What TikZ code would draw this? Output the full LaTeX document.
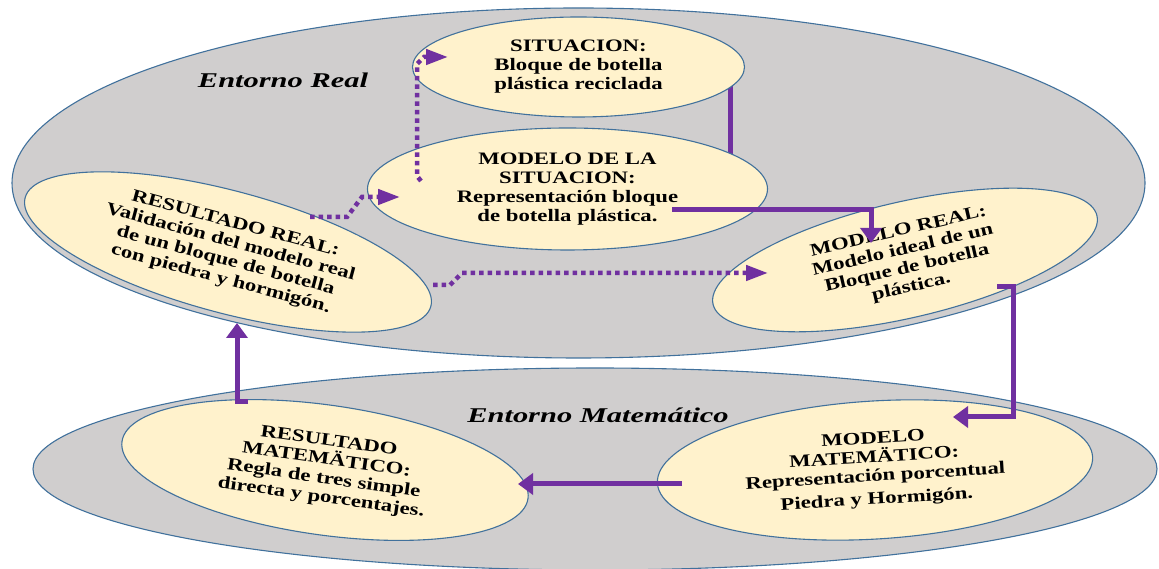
\documentclass[tikz,border=0pt]{standalone}
\usepackage{fontspec}
\setmainfont{Liberation Serif}
\newfontfamily\nodefont[FakeStretch=1.3]{Liberation Serif}
\newfontfamily\labfont[FakeStretch=1.45]{Liberation Serif}
\usetikzlibrary{shapes.geometric,arrows.meta,calc}
\pgfdeclarelayer{bglayer}
\pgfdeclarelayer{midlayer}
\pgfsetlayers{bglayer,midlayer,main}
\definecolor{envgray}{HTML}{D0CECE}
\definecolor{cream}{HTML}{FFF2CC}
\definecolor{edgeblue}{HTML}{41719C}
\definecolor{arrpurple}{HTML}{7030A0}
\tikzset{
  envbox/.style={ellipse, draw=edgeblue, line width=1.1pt, fill=envgray, inner sep=0pt},
  stagebox/.style={ellipse, draw=edgeblue, line width=1.1pt, fill=cream, inner sep=0pt, align=center,
    font=\nodefont\bfseries\fontsize{17.5}{19}\selectfont},
  solidconn/.style={draw=arrpurple, line width=5pt},
  solidarrow/.style={solidconn, -{Triangle[width=21pt,length=15pt]}},
  dotconn/.style={draw=arrpurple, line width=4.5pt, dash pattern=on 4.5pt off 4pt, -{Triangle[width=15pt,length=22pt]}},
  envlabel/.style={font=\labfont\bfseries\itshape\fontsize{21}{24}\selectfont, inner sep=0pt}
}
\begin{document}
\begin{tikzpicture}[x=1pt,y=1pt]
\useasboundingbox (0,0) rectangle (1159,569);
\begin{pgfonlayer}{bglayer}
  \node[envbox, minimum width=1133pt, minimum height=350pt] (real) at (578.5,386) {};
  \node[envbox, minimum width=1124pt, minimum height=202pt] (mate) at (595,100) {};
\end{pgfonlayer}
\node[envlabel] (lreal) at (283,489) {Entorno Real};
\node[envlabel] (lmat) at (598,154) {Entorno Matemático};

\node[stagebox, minimum width=332pt, minimum height=100pt] (sit) at (578.5,502)
  {SITUACION:\\Bloque de botella\\plástica reciclada};
\node[stagebox, minimum width=400pt, minimum height=122pt] (mds) at (567.5,380)
  {MODELO DE LA\\SITUACION:\\Representación bloque\\de botella plástica.};
\node[stagebox, minimum width=420pt, minimum height=122pt, rotate=-15] (rr) at (228,317)
  {RESULTADO REAL:\\Validación del modelo real\\de un bloque de botella\\con piedra y hormigón.};
\node[stagebox, minimum width=394pt, minimum height=116pt, rotate=13] (mr) at (905,309)
  {MODELO REAL:\\Modelo ideal de un\\Bloque de botella\\plástica.};
\node[stagebox, minimum width=410pt, minimum height=130pt, rotate=-8] (rm) at (325,99)
  {RESULTADO\\MATEMÄTICO:\\Regla de tres simple\\directa y porcentajes.};
\node[stagebox, minimum width=436pt, minimum height=138pt, rotate=3.5] (mm) at (875,99)
  {MODELO\\MATEMÄTICO:\\Representación porcentual\\[4pt]Piedra y Hormigón.};

\begin{pgfonlayer}{midlayer}
  \draw[solidconn] ([xshift=112pt,yshift=-2pt]sit.center) -| ([xshift=162.5pt,yshift=20pt]mds.center);
\end{pgfonlayer}
\draw[solidarrow] ([xshift=104.5pt,yshift=-21pt]mds.center) -| ([xshift=-34pt,yshift=17pt]mr.center);
\draw[solidarrow] ([xshift=92pt,yshift=-27pt]mr.center) -- ++(16pt,0) |- ([xshift=78pt,yshift=53pt]mm.center);
\draw[solidarrow] ([xshift=-193pt,yshift=-14pt]mm.center) -- ([xshift=193pt,yshift=-14pt]rm.center);
\draw[solidarrow] ([xshift=-77pt,yshift=68pt]rm.center) -- ++(-11pt,0) -- ([xshift=9pt,yshift=-71pt]rr.center);
\draw[dotconn] ([xshift=-146.5pt,yshift=8pt]mds.center) -- ++(-4pt,5pt) -- ++(0,112pt) -- ++(7pt,7pt) -- ([xshift=-130.5pt,yshift=10pt]sit.center);
\draw[dotconn] ([xshift=82pt,yshift=35pt]rr.center) -- ++(37pt,0) -- ++(15pt,20pt) -- ([xshift=-167.5pt,yshift=-8pt]mds.center);
\draw[dotconn] ([xshift=205pt,yshift=-33pt]rr.center) -- ++(17pt,0) -- ++(12pt,12pt) -- ([xshift=-137pt,yshift=-13pt]mr.center);
\end{tikzpicture}
\end{document}
